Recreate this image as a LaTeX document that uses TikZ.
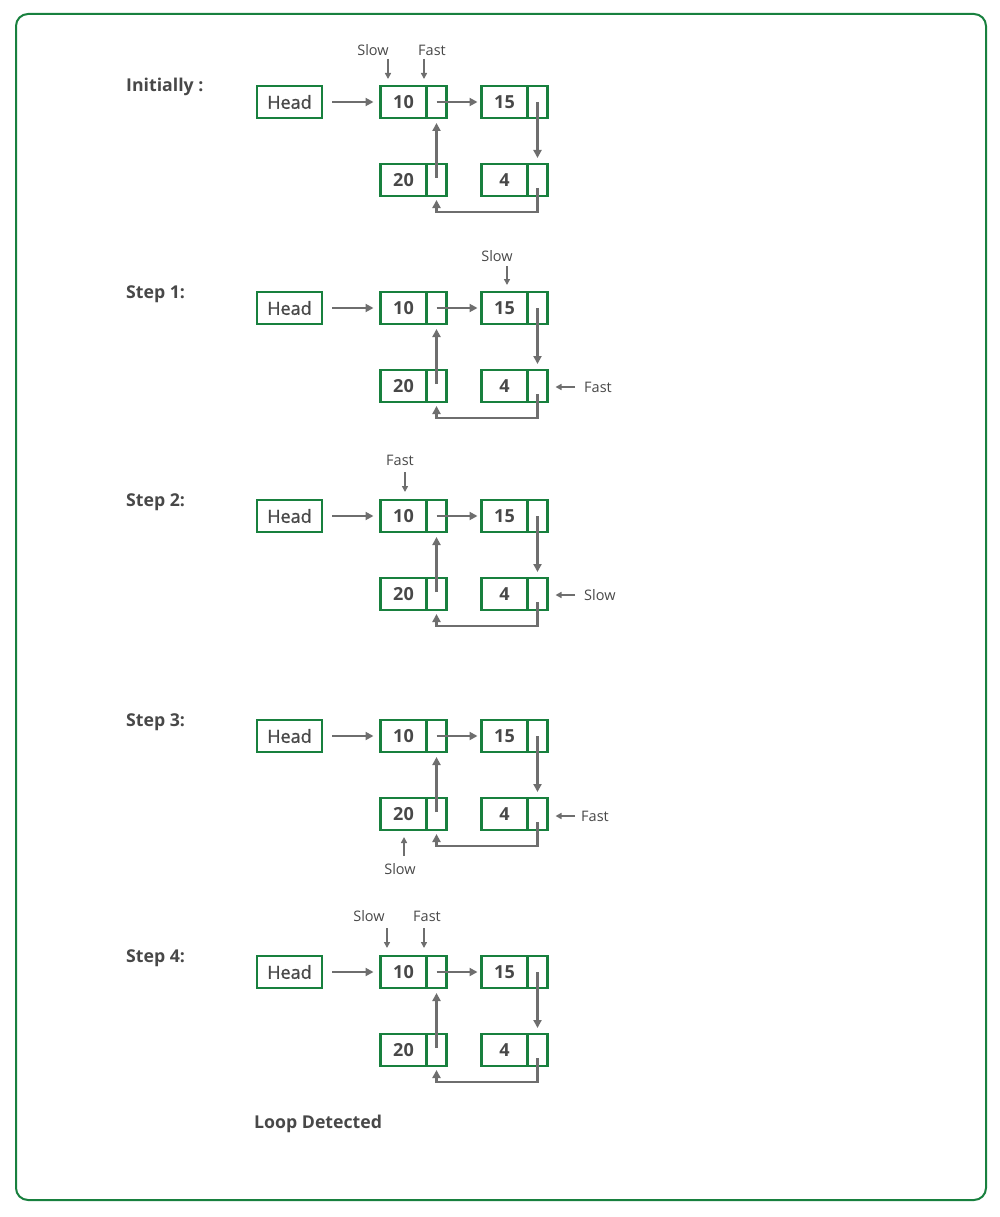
\documentclass[tikz,border=0pt]{standalone}
\usepackage{fontspec}
\setmainfont{Open Sans}
\newfontfamily\semibold{Open Sans}[FakeBold=1.2]
\usetikzlibrary{arrows.meta,calc}
\definecolor{gfg}{RGB}{24,128,62}
\definecolor{arr}{RGB}{110,110,110}
\definecolor{txt}{RGB}{72,72,72}

\begin{document}
\begin{tikzpicture}[x=1pt,y=-1pt,
  cell/.style={draw=gfg,line width=2.4pt,minimum height=32pt,inner sep=0pt,outer sep=0pt,
    text=txt,font=\fontsize{18}{20}\selectfont\bfseries},
  datacell/.style={cell,minimum width=46pt},
  ptrcell/.style={cell,minimum width=20pt},
  headcell/.style={cell,minimum width=65pt,font=\fontsize{18}{20}\selectfont\semibold},
  link/.style={draw=arr,line width=2.2pt,-{Triangle[length=8pt,width=8pt]}},
  tag/.style={text=txt,inner sep=0pt,font=\fontsize{14.5}{16}\selectfont},
  tagarrow/.style={draw=arr,line width=1.5pt,-{Triangle[length=6pt,width=6pt]}},
  title/.style={anchor=base west,inner sep=0pt,text=txt,font=\fontsize{17.7}{20}\selectfont\bfseries}]

\useasboundingbox (0,0) rectangle (1000,1217);

% outer frame
\draw[gfg,line width=2pt,rounded corners=12pt] (16,14) rectangle (986,1200);

% the same cyclic list, drawn once per step
\foreach \i/\oy/\ttl in {0/0/{Initially :},1/206/{Step 1:},2/414/{Step 2:},3/634/{Step 3:},4/870/{Step 4:}}{
  \node[title] (t\i) at (126,92+\oy) {\ttl};
  \node[headcell] (h\i) at (289.5,102+\oy) {Head};
  \node[datacell] (a\i) at (403.5,102+\oy) {10};
  \node[ptrcell] (ap\i) at (436.5,102+\oy) {};
  \node[datacell] (b\i) at (504.5,102+\oy) {15};
  \node[ptrcell] (bp\i) at (537.5,102+\oy) {};
  \node[datacell] (c\i) at (403.5,180+\oy) {20};
  \node[ptrcell] (cp\i) at (436.5,180+\oy) {};
  \node[datacell] (d\i) at (504.5,180+\oy) {4};
  \node[ptrcell] (dp\i) at (537.5,180+\oy) {};
  \draw[link,shorten <=10pt,shorten >=7pt] (h\i.east) -- (a\i.west);
  \draw[link,shorten >=4pt] (ap\i.center) -- (b\i.west);
  \draw[link,shorten >=6pt] (bp\i.center) -- (dp\i.north);
  \draw[link,shorten >=5pt] ($(cp\i.center)+(0,-2)$) -- (ap\i.south);
  \draw[link,shorten >=4pt] ($(dp\i.center)+(0,8)$) -- ($(dp\i.center)+(0,32)$) -| (cp\i.south);
}

% Initially
\node[tag] (slow0) at (373,50) {Slow};
\node[tag] (fast0) at (432,50) {Fast};
\coordinate (slow0a) at (388,59);
\coordinate (fast0a) at (424,59);
\draw[tagarrow,shorten >=7pt] (slow0a) -- (slow0a |- a0.north);
\draw[tagarrow,shorten >=7pt] (fast0a) -- (fast0a |- a0.north);

% Step 1
\node[tag] (slow1) at (497,256) {Slow};
\coordinate (slow1a) at (507,266);
\draw[tagarrow,shorten >=7pt] (slow1a) -- (slow1a |- b1.north);
\node[tag,anchor=west] (fast1) at (584,387) {Fast};
\coordinate (fast1a) at (575,387);
\draw[tagarrow,shorten >=8pt] (fast1a) -- (fast1a -| dp1.east);

% Step 2
\node[tag] (fast2) at (400,460) {Fast};
\coordinate (fast2a) at (405,472);
\draw[tagarrow,shorten >=8pt] (fast2a) -- (fast2a |- a2.north);
\node[tag,anchor=west] (slow2) at (584,595) {Slow};
\coordinate (slow2a) at (575,595);
\draw[tagarrow,shorten >=8pt] (slow2a) -- (slow2a -| dp2.east);

% Step 3
\node[tag,anchor=west] (fast3) at (581,816) {Fast};
\coordinate (fast3a) at (575,816);
\draw[tagarrow,shorten >=8pt] (fast3a) -- (fast3a -| dp3.east);
\node[tag] (slow3) at (400,869) {Slow};
\coordinate (slow3a) at (404,856);
\draw[tagarrow,shorten >=7pt] (slow3a) -- (slow3a |- c3.south);

% Step 4
\node[tag] (slow4) at (369,916) {Slow};
\node[tag] (fast4) at (427,916) {Fast};
\coordinate (slow4a) at (387,928);
\coordinate (fast4a) at (424,928);
\draw[tagarrow,shorten >=8pt] (slow4a) -- (slow4a |- a4.north);
\draw[tagarrow,shorten >=8pt] (fast4a) -- (fast4a |- a4.north);

\node[title] (done) at (254,1128) {Loop Detected};
\end{tikzpicture}
\end{document}
